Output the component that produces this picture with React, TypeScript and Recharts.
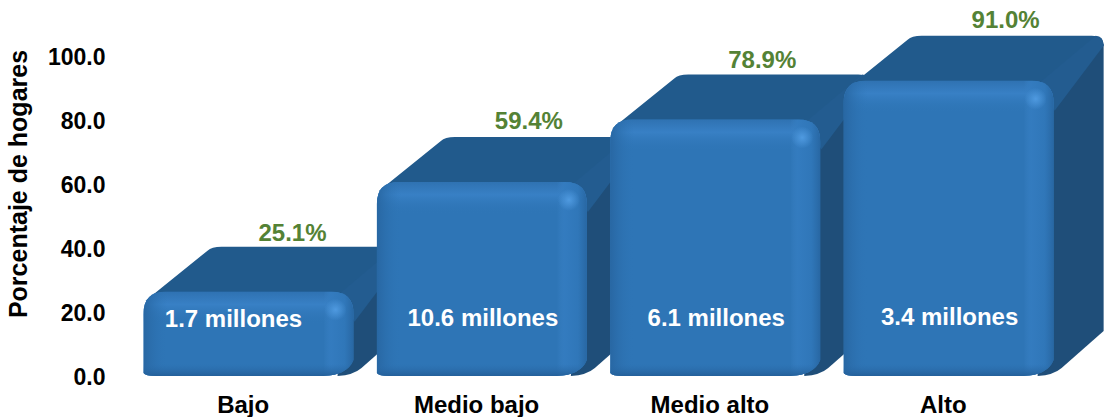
import React from "react";
import { BarChart, Bar, XAxis, YAxis, LabelList } from "recharts";

const categories = ["Bajo", "Medio bajo", "Medio alto", "Alto"];
const percentages = [25.1, 59.4, 78.9, 91.0];
const households = ["1.7 millones", "10.6 millones", "6.1 millones", "3.4 millones"];
const yTicks = [0, 20, 40, 60, 80, 100];
const yAxisTitle = "Porcentaje de hogares";

const rows = categories.map((category, i) => ({
  category,
  value: percentages[i],
  households: households[i],
}));

const FONT = "'Liberation Sans', Arial, sans-serif";
const DEPTH_Y = 45;
const LIFT = 5;
const PERCENT_DX = [44, 47, 47, 57];
const PERCENT_DY = [-56, -58, -57, -58];

function Bar3D(props: any) {
  const { x, y, width: w, height: h, index } = props;
  const t = y - LIFT;
  const b = y + h - 1;
  const r = x + w;
  const id = `front-clip-${index}`;
  const frontPath = `M${x},${b - 3} L${x},${t + 22} Q${x},${t} ${x + 22},${t} L${r - 22},${t} Q${r},${t} ${r},${t + 22} L${r},${b - 16} Q${r - 6},${b - 1} ${r - 30},${b} L${x + 12},${b} Q${x + 2},${b} ${x},${b - 3} Z`;
  const topPath = `M${x + 2},${t + 9} L${x + 64},${t - 41} Q${x + 68},${t - DEPTH_Y} ${x + 78},${t - DEPTH_Y} L${r + 38},${t - DEPTH_Y} Q${r + 50},${t - DEPTH_Y} ${r + 50},${t - DEPTH_Y + 10} L${r - 6},${t + 14} Z`;
  const sidePath = `M${r - 8},${t + 10} L${r + 50},${t - DEPTH_Y + 8} L${r + 50},${b - DEPTH_Y} L${r + 8},${b - 8} Q${r},${b - 1} ${r - 16},${b} Z`;
  const bevelPath = `M${r - 14},${t + 2} L${r + 42},${t - DEPTH_Y} Q${r + 50},${t - DEPTH_Y} ${r + 50},${t - DEPTH_Y + 10} L${r + 1},${t + 30} Z`;
  return (
    <g>
      <path d={sidePath} fill="#1f4e79" />
      <path d={topPath} fill="#215a8c" />
      <path d={bevelPath} fill="#235c90" />
      <path d={frontPath} fill="#2e75b6" />
      <clipPath id={id}>
        <path d={frontPath} />
      </clipPath>
      <g clipPath={`url(#${id})`}>
        <rect x={x} y={t} width={w} height={32} fill="url(#bevelTop)" />
        <rect x={x} y={t} width={24} height={b - t} fill="url(#bevelLeft)" />
        <rect x={r - 30} y={t} width={30} height={b - t} fill="url(#bevelRight)" />
        <rect x={x} y={b - 12} width={w} height={12} fill="url(#bevelBottom)" />
        <circle cx={r - 18} cy={t + 18} r={11} fill="url(#glow)" />
      </g>
    </g>
  );
}

function PercentLabel(props: any) {
  const { x, y, width, value, index } = props;
  return (
    <text x={x + width / 2 + PERCENT_DX[index]} y={y + PERCENT_DY[index]} textAnchor="middle" fill="#548235" fontFamily={FONT} fontWeight={700} fontSize={24}>
      {`${Number(value).toFixed(1)}%`}
    </text>
  );
}

function HouseholdLabel(props: any) {
  const { x, y, width, height, value, index } = props;
  const shift = index === 0 ? -15 : 1;
  return (
    <text x={x + width / 2 + shift} y={y + height - 50 - index * 0.7} textAnchor="middle" fill="#ffffff" fontFamily={FONT} fontWeight={700} fontSize={24}>
      {value}
    </text>
  );
}

function AxisTitle() {
  return (
    <text transform="translate(27,184) rotate(-90)" textAnchor="middle" fill="#000000" fontFamily={FONT} fontWeight={700} fontSize={25}>
      {yAxisTitle}
    </text>
  );
}

export default function App() {
  return (
    <div style={{ position: "absolute", left: 0, top: 0 }}>
      <BarChart
        width={1104}
        height={417}
        data={rows}
        margin={{ top: 57, right: 39, bottom: 10, left: 0 }}
        style={{ overflow: "visible" }}
      >
        <defs>
          <linearGradient id="bevelTop" x1="0" y1="0" x2="0" y2="1">
            <stop offset="0" stopColor="#2f72b2" stopOpacity="1" />
            <stop offset="0.4" stopColor="#3880c5" stopOpacity="1" />
            <stop offset="1" stopColor="#2e75b6" stopOpacity="0" />
          </linearGradient>
          <linearGradient id="bevelLeft" x1="0" y1="0" x2="1" y2="0">
            <stop offset="0" stopColor="#2867a3" stopOpacity="1" />
            <stop offset="1" stopColor="#2e75b6" stopOpacity="0" />
          </linearGradient>
          <linearGradient id="bevelRight" x1="0" y1="0" x2="1" y2="0">
            <stop offset="0" stopColor="#3a82c6" stopOpacity="0" />
            <stop offset="0.25" stopColor="#347cc0" stopOpacity="0.9" />
            <stop offset="0.7" stopColor="#3077b9" stopOpacity="0.9" />
            <stop offset="1" stopColor="#2867a3" stopOpacity="1" />
          </linearGradient>
          <linearGradient id="bevelBottom" x1="0" y1="0" x2="0" y2="1">
            <stop offset="0" stopColor="#2a6cab" stopOpacity="0" />
            <stop offset="1" stopColor="#24609a" stopOpacity="1" />
          </linearGradient>
          <radialGradient id="glow">
            <stop offset="0" stopColor="#4f9ae0" stopOpacity="1" />
            <stop offset="1" stopColor="#4f9ae0" stopOpacity="0" />
          </radialGradient>
        </defs>
        <XAxis
          dataKey="category"
          height={30}
          axisLine={false}
          tickLine={false}
          tickSize={0}
          tickMargin={19}
          interval={0}
          dx={-5}
          tick={{ fill: "#000000", fontFamily: FONT, fontWeight: 700, fontSize: 24 }}
        />
        <YAxis
          domain={[0, 100]}
          ticks={yTicks}
          width={131.5}
          axisLine={false}
          tickLine={false}
          tickSize={0}
          tickMargin={26}
          tickFormatter={(v: number) => v.toFixed(1)}
          tick={{ fill: "#000000", fontFamily: FONT, fontWeight: 700, fontSize: 23 }}
          label={{ value: yAxisTitle, content: AxisTitle }}
        />
        <Bar dataKey="value" barSize={210} shape={Bar3D} isAnimationActive={false}>
          <LabelList dataKey="value" content={PercentLabel} />
          <LabelList dataKey="households" content={HouseholdLabel} />
        </Bar>
      </BarChart>
    </div>
  );
}
